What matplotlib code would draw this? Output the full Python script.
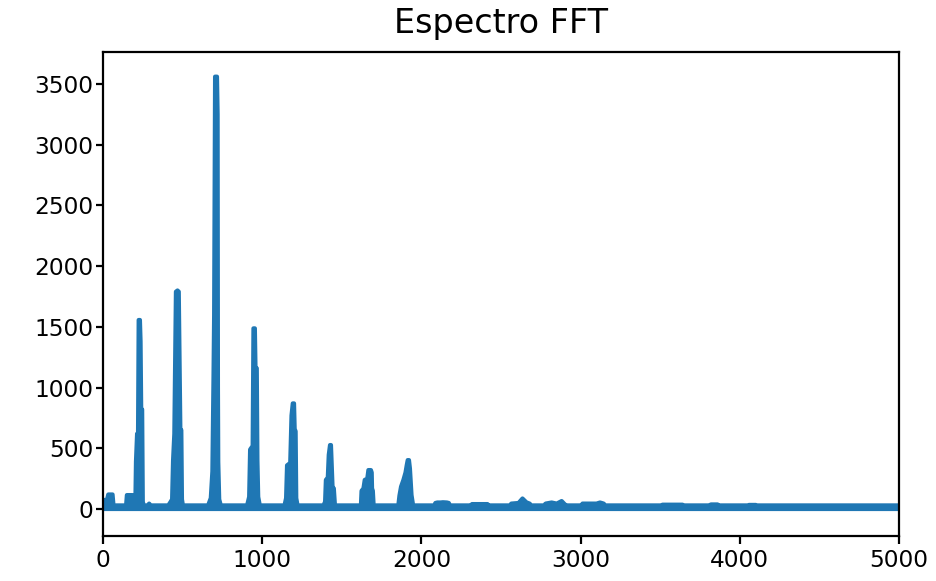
import matplotlib
matplotlib.use("Agg")
import matplotlib.pyplot as plt
import numpy as np

# Spectrum envelope: frequency breakpoints (Hz) and upper magnitude per breakpoint
freq_hz = [
    0, 25, 33, 60, 66, 145, 150, 185, 190,
    # harmonic 1
    203, 207, 214, 220, 224, 232, 236, 240, 246, 250, 256,
    280, 290, 300, 410, 425,
    # harmonic 2
    434, 440, 448, 458, 468, 476, 482, 486, 492, 496, 502,
    # harmonic 3
    660, 677, 687, 694, 698, 704, 716, 720, 722, 724, 730, 740,
    # harmonic 4
    905, 918, 924, 940, 945, 954, 958, 966, 970, 975, 985,
    # harmonic 5
    1140, 1150, 1156, 1176, 1184, 1192, 1200, 1204, 1210, 1214, 1222,
    # harmonic 6
    1385, 1395, 1400, 1412, 1418, 1426, 1432, 1436, 1442, 1450, 1457,
    # harmonic 7
    1620, 1624, 1636, 1644, 1660, 1667, 1683, 1688, 1690, 1695, 1700,
    # harmonic 8
    1855, 1862, 1872, 1887, 1900, 1908, 1914, 1922, 1928, 1934, 1938, 1948,
    # weak upper partials
    2080, 2088, 2100, 2120, 2135, 2160, 2172, 2180,
    2310, 2318, 2415, 2422,
    2555, 2565, 2610, 2635, 2660, 2680, 2690,
    2770, 2780, 2818, 2850, 2881, 2900, 2910,
    3005, 3012, 3100, 3122, 3145, 3155,
    3505, 3515, 3640, 3648,
    3810, 3818, 3860, 3866,
    4050, 4058, 4100, 4108,
    5000,
]
magnitude = [
    75, 75, 120, 120, 30, 30, 115, 115, 30,
    30, 390, 620, 620, 1557, 1557, 1380, 820, 820, 60, 30,
    30, 45, 30, 30, 60,
    80, 400, 620, 1790, 1800, 1790, 1100, 650, 650, 80, 30,
    30, 90, 310, 1080, 1600, 3561, 3561, 3250, 1000, 390, 80, 30,
    30, 100, 490, 520, 1488, 1488, 1160, 1160, 400, 100, 30,
    30, 90, 360, 380, 770, 870, 870, 660, 640, 90, 30,
    30, 60, 240, 260, 446, 527, 527, 390, 180, 170, 30,
    30, 150, 170, 240, 250, 321, 321, 300, 170, 150, 30,
    30, 110, 184, 240, 300, 362, 403, 403, 334, 200, 115, 30,
    30, 50, 54, 54, 56, 54, 50, 30,
    30, 41, 41, 30,
    30, 45, 50, 87, 55, 45, 30,
    30, 45, 54, 45, 66, 40, 30,
    30, 45, 45, 54, 45, 30,
    30, 36, 36, 30,
    30, 38, 38, 30,
    30, 34, 34, 30,
    30,
]

x_ticks = [0, 1000, 2000, 3000, 4000, 5000]
y_ticks = [0, 500, 1000, 1500, 2000, 2500, 3000, 3500]

DPI = 200
fig = plt.figure(figsize=(936 / DPI, 581 / DPI), dpi=DPI)
ax = fig.add_axes([103 / 936, 45 / 581, 796 / 936, 484 / 581])

f = np.asarray(freq_hz, dtype=float)
m = np.asarray(magnitude, dtype=float)
floor = np.zeros_like(m)

color = "#1f77b4"
ax.fill_between(f, floor, m, color=color, linewidth=0)
ax.plot(f, m, color=color, linewidth=1.5)
ax.plot(f, floor, color=color, linewidth=1.5)

ax.set_xlim(0, 5000)
ax.set_ylim(-222, 3764)
ax.set_xticks(x_ticks)
ax.set_yticks(y_ticks)
ax.tick_params(axis="x", length=2.8, pad=1.8, labelsize=8.4)
ax.tick_params(axis="y", length=2.6, pad=0.8, labelsize=8.4)
ax.set_title("Espectro FFT", fontsize=12, pad=7)

fig.savefig("out.png", dpi=DPI)
